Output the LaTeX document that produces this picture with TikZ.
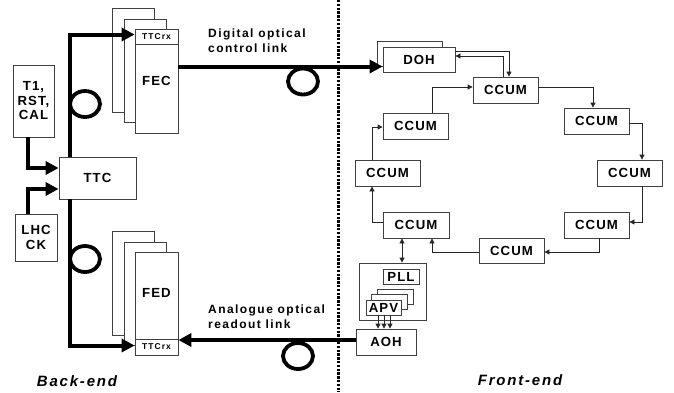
\documentclass[tikz,border=0pt]{standalone}
\usepackage{fontspec}
\setmainfont{Liberation Sans}[LetterSpace=8]
\newfontfamily\widefont{Liberation Sans}[LetterSpace=12]
\usetikzlibrary{arrows.meta,calc}
\begin{document}
\begin{tikzpicture}[x=1pt,y=-1pt,
  bx/.style={draw=black!75, line width=0.8pt, fill=white, inner sep=0pt, align=center,
    font=\bfseries\fontsize{13.2}{14.5}\selectfont},
  sbx/.style={bx, font=\widefont\bfseries\fontsize{8.5}{9}\selectfont},
  thk/.style={line width=4pt, -{Triangle[length=13pt,width=13pt]}},
  thn/.style={draw=black!85, line width=0.8pt, -{Triangle[length=5pt,width=5pt]}},
  dbl/.style={draw=black!85, line width=0.8pt, {Triangle[length=5pt,width=5pt]}-{Triangle[length=5pt,width=5pt]}},
  fibre/.style={line width=3.8pt},
  lbl/.style={font=\widefont\bfseries\fontsize{12}{15}\selectfont, align=left, anchor=north west, inner sep=0pt},
  side/.style={font=\widefont\bfseries\itshape\fontsize{15}{16}\selectfont, inner sep=0pt},
]
\useasboundingbox (0,0) rectangle (674,392);

% divider
\coordinate (dtop) at (338,0);
\coordinate (dbot) at (338,392);
\draw[line width=3pt, dash pattern=on 2.4pt off 1.4pt] (dtop) -- (dbot);

% back-end boxes
\node[bx, minimum width=41pt, minimum height=72pt] (t1) at (33.5,101) {T1,\\RST,\\CAL};
\node[bx, minimum width=77pt, minimum height=42pt] (ttc) at (97.5,178) {TTC};
\node[bx, minimum width=42pt, minimum height=47pt] (lhc) at (36,237.5) {LHC\\CK};

\node[bx, minimum width=42pt, minimum height=104pt] (fecB) at (133,60) {};
\node[bx, minimum width=42pt, minimum height=103pt] (fecM) at (145,70.5) {};
\node[bx, minimum width=43pt, minimum height=104pt] (fecF) at (156.5,81) {FEC};
\node[sbx, minimum width=43pt, minimum height=15pt] (fecrx) at (156.5,36.5) {TTCrx};

\node[bx, minimum width=42pt, minimum height=104pt] (fedB) at (133,283) {};
\node[bx, minimum width=42pt, minimum height=103pt] (fedM) at (145,293.5) {};
\node[bx, minimum width=43pt, minimum height=103pt] (fedF) at (156.5,303.5) {};
\node[font=\bfseries\fontsize{13.2}{14.5}\selectfont, inner sep=0pt] (fedlbl) at (156.5,293) {FED};
\node[sbx, minimum width=43pt, minimum height=16pt] (fedrx) at (156.5,347) {TTCrx};

% front-end boxes
\node[bx, minimum width=65pt, minimum height=25pt] (dohB) at (409.5,53.5) {};
\node[bx, minimum width=72pt, minimum height=25pt] (doh) at (419,59.5) {DOH};
\node[bx, minimum width=65pt, minimum height=26pt] (cT) at (505.5,90) {CCUM};
\node[bx, minimum width=65pt, minimum height=26pt] (r1) at (596.5,121) {CCUM};
\node[bx, minimum width=65pt, minimum height=26pt] (r2) at (629.5,173) {CCUM};
\node[bx, minimum width=65pt, minimum height=26pt] (r3) at (596.5,225) {CCUM};
\node[bx, minimum width=65pt, minimum height=25pt] (cB) at (511.5,250.5) {CCUM};
\node[bx, minimum width=66pt, minimum height=26pt] (l3) at (416,225) {CCUM};
\node[bx, minimum width=65pt, minimum height=26pt] (l2) at (387.5,173) {CCUM};
\node[bx, minimum width=65pt, minimum height=26pt] (l1) at (415.5,126) {CCUM};

\node[bx, minimum width=67pt, minimum height=57pt] (hyb) at (392.5,291.5) {};
\node[bx, minimum width=36pt, minimum height=15pt] (pll) at (401,276.5) {PLL};
\node[bx, minimum width=36pt, minimum height=15pt] (apvB) at (395,296.5) {};
\node[bx, minimum width=36pt, minimum height=15pt] (apvM) at (389,301.5) {};
\node[bx, minimum width=35pt, minimum height=15pt] (apv) at (383.5,307.5) {APV};
\node[bx, minimum width=60pt, minimum height=26pt] (aoh) at (386,342) {AOH};

% thick back-end links
\draw[thk] ([xshift=-27.5pt]ttc.north) |- ([yshift=2pt]fecrx.west);
\draw[thk] ([xshift=-27.5pt]ttc.south) |- ([yshift=1.5pt]fedrx.west);
\draw[thk] ([xshift=-5.5pt]t1.south) |- ([yshift=10pt]ttc.west);
\draw[thk] ([xshift=-8pt]lhc.north) |- ([yshift=-11pt]ttc.west);
\coordinate (dl) at ([yshift=-7pt]doh.west);
\draw[thk] (fecF.east |- dl) -- (dl);
\coordinate (al) at ([yshift=2pt]aoh.west);
\draw[thk] (al) -- (al -| fedrx.east);

% fibre loops
\draw[fibre] (85,104) ellipse [x radius=15pt, y radius=13pt];
\draw[fibre] (85,259) ellipse [x radius=15pt, y radius=13pt];
\draw[fibre] (303,81.5) ellipse [x radius=15pt, y radius=13pt];
\draw[fibre] (298,356) ellipse [x radius=15pt, y radius=13pt];

% ring connectors
\draw[thn] ([yshift=8.5pt]doh.east) -| ([xshift=3.5pt]cT.north);
\draw[thn] ([xshift=-2.5pt]cT.north) |- ([yshift=3.5pt]doh.east);
\draw[thn] ([yshift=3pt]cT.east) -| ([xshift=-3.5pt]r1.north);
\draw[thn] ([yshift=-2pt]r1.east) -| ([xshift=12.5pt]r2.north);
\draw[thn] ([xshift=12.5pt]r2.south) |- ([yshift=3pt]r3.east);
\draw[thn] ([xshift=2.5pt]r3.south) |- ([yshift=-1.5pt]cB.east);
\draw[thn] ([yshift=-1.5pt]cB.west) -| ([xshift=16pt]l3.south);
\draw[thn] ([yshift=3pt]l3.west) -| ([xshift=-15.5pt]l2.south);
\draw[thn] ([xshift=-15.5pt]l2.north) |- ([yshift=-1pt]l1.west);
\draw[thn] ([xshift=16.5pt]l1.north) |- ([yshift=3pt]cT.west);
\draw[dbl] ([xshift=-14pt]l3.south) -- ([xshift=-14pt]l3.south |- hyb.north);
\draw[thn] ([xshift=-5.5pt]apv.south) -- ([xshift=-5.5pt]apv.south |- aoh.north);
\draw[thn] ([xshift=0.5pt]apv.south) -- ([xshift=0.5pt]apv.south |- aoh.north);
\draw[thn] ([xshift=6.5pt]apv.south) -- ([xshift=6.5pt]apv.south |- aoh.north);

% labels
\node[lbl] (dig) at (208,29) {Digital optical\\control link};
\node[lbl] (ana) at (208,305) {Analogue optical\\readout link};
\node[side] (be) at (77,381) {Back-end};
\node[side] (fe) at (520,380) {Front-end};
\end{tikzpicture}
\end{document}
